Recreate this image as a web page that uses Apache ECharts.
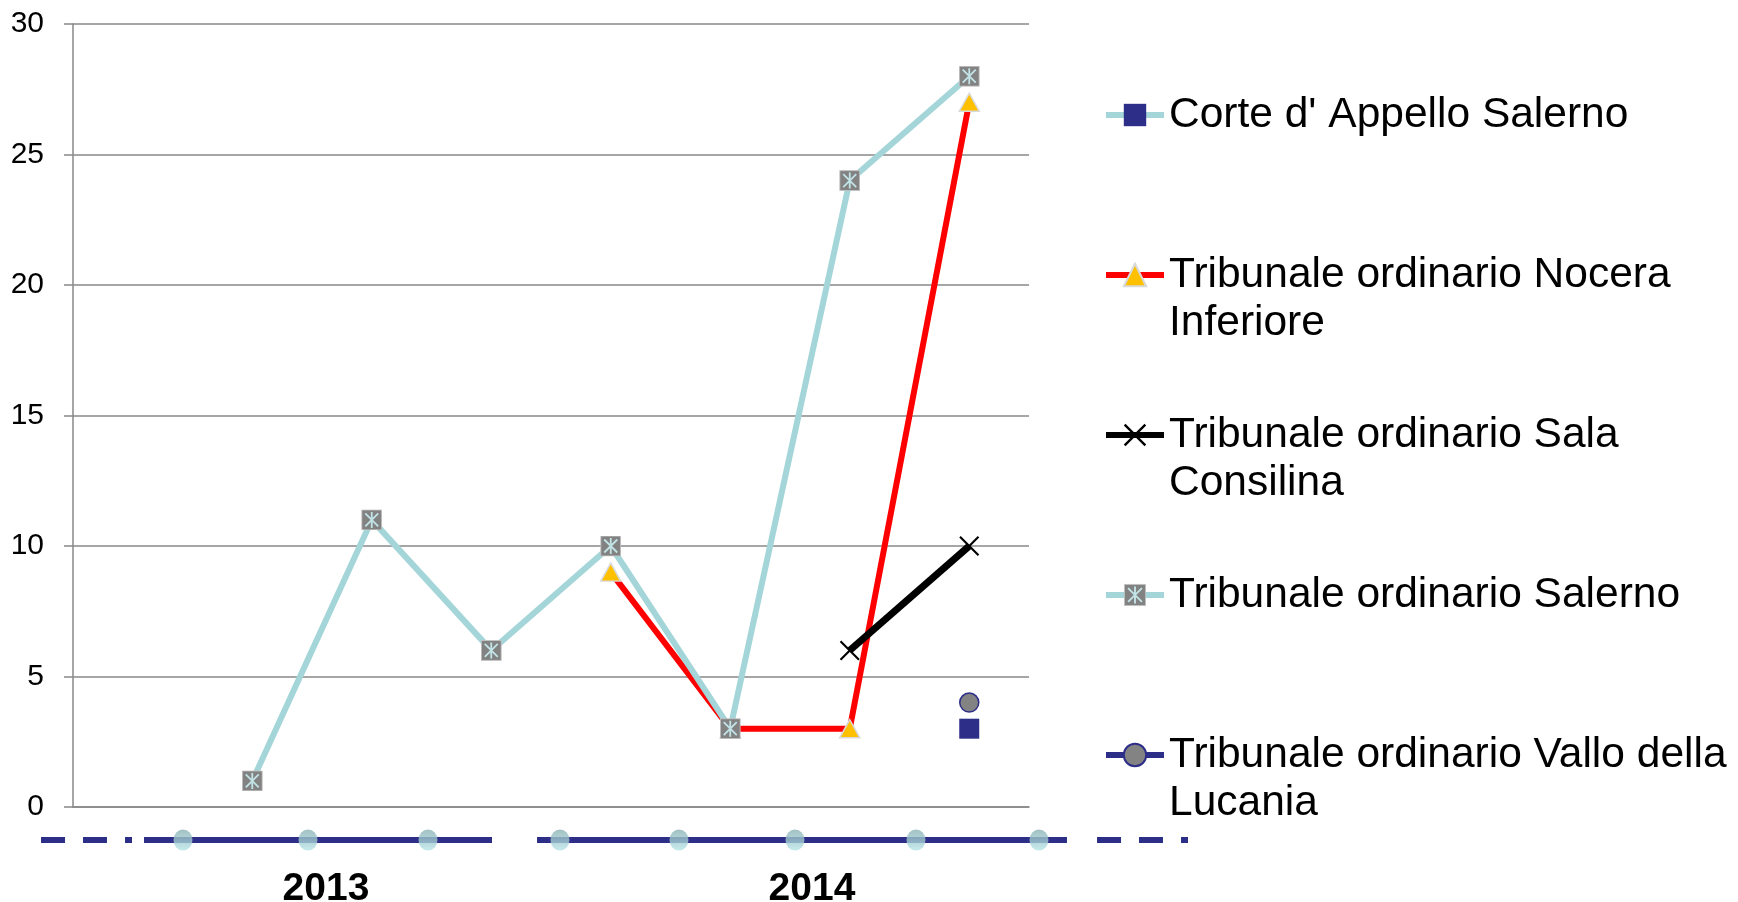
<!DOCTYPE html>
<html>
<head>
<meta charset="utf-8">
<script src="https://cdn.jsdelivr.net/npm/echarts@6/dist/echarts.min.js"></script>
<style>
  html, body { margin: 0; padding: 0; background: #fff; }
  #chart { width: 1738px; height: 902px; }
</style>
</head>
<body>
<div id="chart"></div>
<script>
// periods on the hidden category axis (quarters), years shown underneath
let periods = ['2013 I', '2013 II', '2013 III', '2013 IV', '2014 I', '2014 II', '2014 III', '2014 IV']
let years = ['2013', '2014']
let yTicks = [0, 5, 10, 15, 20, 25, 30]

let corteAppello = ['-', '-', '-', '-', '-', '-', '-', 3]
let nocera = ['-', '-', '-', '-', 9, 3, 3, 27]
let salaConsilina = ['-', '-', '-', '-', '-', '-', 6, 10]
let salerno = ['-', 1, 11, 6, 10, 3, 24, 28]
let valloLucania = ['-', '-', '-', '-', '-', '-', '-', 4]

// legend labels, split in lines like the original
let legendLines = {
    "Corte d' Appello Salerno": ["Corte d' Appello Salerno"],
    'Tribunale ordinario Nocera Inferiore': ['Tribunale ordinario Nocera', 'Inferiore'],
    'Tribunale ordinario Sala Consilina': ['Tribunale ordinario Sala', 'Consilina'],
    'Tribunale ordinario Salerno': ['Tribunale ordinario Salerno'],
    'Tribunale ordinario Vallo della Lucania': ['Tribunale ordinario Vallo della', 'Lucania']
}

// the odd axis strip under the plot (pixel units of the strip's own axis)
let stripSolid = [[144, 492], [537, 1067]]
let stripDashed = [[41, 132], [1097, 1188]]
let stripTicks = [183, 308, 428, 560, 679, 795, 916, 1039]

const font = 'Liberation Sans, Arial, sans-serif'
const navy = '#2d2e88'
const teal = '#a3d5d9'

let salernoIcon = 'image://data:image/svg+xml;utf8,' + encodeURIComponent(
    '<svg xmlns="http://www.w3.org/2000/svg" width="21" height="21">' +
    '<rect x="0.5" y="0.5" width="20" height="20" fill="#828282" stroke="#c4c4c4"/>' +
    '<path d="M4 4L17 17M17 4L4 17M10.5 2.5V18.5" stroke="#c2e3e6" stroke-width="1.8"/></svg>')
let crossIcon = 'path://M0,1.5L1.5,0L10,8.5L18.5,0L20,1.5L11.5,10L20,18.5L18.5,20L10,11.5L1.5,20L0,18.5L8.5,10Z'

let chart = echarts.init(document.getElementById('chart'))

let tickGradient = new echarts.graphic.LinearGradient(0, 0, 0, 1, [
    {offset: 0, color: '#8ab1b4'},
    {offset: 1, color: '#b9e5e8'}
])

let stripSeries = []
stripSolid.forEach(function (seg) {
    stripSeries.push({
        type: 'line', xAxisIndex: 1, yAxisIndex: 1, symbol: 'none', silent: true, z: 1,
        data: [[seg[0], 0.5], [seg[1], 0.5]],
        lineStyle: {color: navy, width: 6, cap: 'butt'}
    })
})
stripDashed.forEach(function (seg) {
    stripSeries.push({
        type: 'line', xAxisIndex: 1, yAxisIndex: 1, symbol: 'none', silent: true, z: 1,
        data: [[seg[0], 0.5], [seg[1], 0.5]],
        lineStyle: {color: navy, width: 6, cap: 'butt', type: [24, 18, 24, 18, 7, 13]}
    })
})
stripSeries.push({
    type: 'scatter', xAxisIndex: 1, yAxisIndex: 1, silent: true, z: 2,
    symbol: 'circle', symbolSize: [19, 21],
    data: stripTicks.map(function (x) { return [x, 0.5] }),
    itemStyle: {color: tickGradient}
})

let option = {
    animation: false,
    backgroundColor: '#fff',
    grid: [
        {left: 73, right: 709, top: 24, bottom: 95},
        {left: 0, right: 0, top: 830, height: 20},
        {left: 83, right: 683, top: 850, height: 10}
    ],
    legend: {
        orient: 'vertical',
        left: 1103,
        top: 43,
        padding: 0,
        itemGap: 16,
        itemWidth: 58,
        itemHeight: 28,
        selectedMode: false,
        data: Object.keys(legendLines),
        lineStyle: {width: 6},
        textStyle: {fontFamily: font, fontSize: 42.5, lineHeight: 48, color: '#000'},
        formatter: function (name) {
            let l = legendLines[name]
            return '\u00a0\n' + l[0] + '\n' + (l[1] || '\u00a0')
        }
    },
    xAxis: [
        {
            type: 'category', gridIndex: 0, data: periods, boundaryGap: true,
            axisLine: {show: true, lineStyle: {color: '#888888', width: 1.5}},
            axisTick: {show: false},
            axisLabel: {show: false},
            splitLine: {show: false}
        },
        {
            type: 'value', gridIndex: 1, min: 0, max: 1738, show: false
        },
        {
            type: 'category', gridIndex: 2, data: years,
            axisLine: {show: false}, axisTick: {show: false}, splitLine: {show: false},
            axisLabel: {
                fontFamily: font, fontSize: 39, fontWeight: 'bold', color: '#000',
                margin: 37, verticalAlign: 'middle'
            }
        }
    ],
    yAxis: [
        {
            type: 'value', gridIndex: 0, min: 0, max: 30, interval: 5,
            axisLine: {show: true, lineStyle: {color: '#888888', width: 1.5}},
            axisTick: {show: true, length: 9, lineStyle: {color: '#888888', width: 1.5}},
            axisLabel: {
                fontFamily: font, fontSize: 30, color: '#000', margin: 29,
                formatter: function (v) { return yTicks.indexOf(v) >= 0 ? String(v) : '' }
            },
            splitLine: {show: true, lineStyle: {color: '#888888', width: 1.5}}
        },
        {type: 'value', gridIndex: 1, min: 0, max: 1, show: false},
        {type: 'value', gridIndex: 2, min: 0, max: 1, show: false}
    ],
    series: [
        {
            name: "Corte d' Appello Salerno",
            type: 'line', data: corteAppello, z: 3,
            symbol: 'rect', symbolSize: 20,
            itemStyle: {color: navy},
            lineStyle: {color: teal, width: 6}
        },
        {
            name: 'Tribunale ordinario Nocera Inferiore',
            type: 'line', data: nocera, z: 4,
            symbol: 'triangle', symbolSize: [20, 18],
            itemStyle: {color: '#ffc000', borderColor: '#d9d9d9', borderWidth: 1.5},
            lineStyle: {color: '#ff0000', width: 6}
        },
        {
            name: 'Tribunale ordinario Sala Consilina',
            type: 'line', data: salaConsilina, z: 5,
            symbol: crossIcon, symbolSize: 20,
            itemStyle: {color: '#000'},
            lineStyle: {color: '#000', width: 7}
        },
        {
            name: 'Tribunale ordinario Salerno',
            type: 'line', data: salerno, z: 6,
            symbol: salernoIcon, symbolSize: 21,
            itemStyle: {color: '#828282'},
            lineStyle: {color: teal, width: 6}
        },
        {
            name: 'Tribunale ordinario Vallo della Lucania',
            type: 'line', data: valloLucania, z: 7,
            symbol: 'circle', symbolSize: 19,
            itemStyle: {color: '#838383', borderColor: navy, borderWidth: 1.5},
            lineStyle: {color: navy, width: 6}
        }
    ].concat(stripSeries)
}

chart.setOption(option)
</script>
</body>
</html>
